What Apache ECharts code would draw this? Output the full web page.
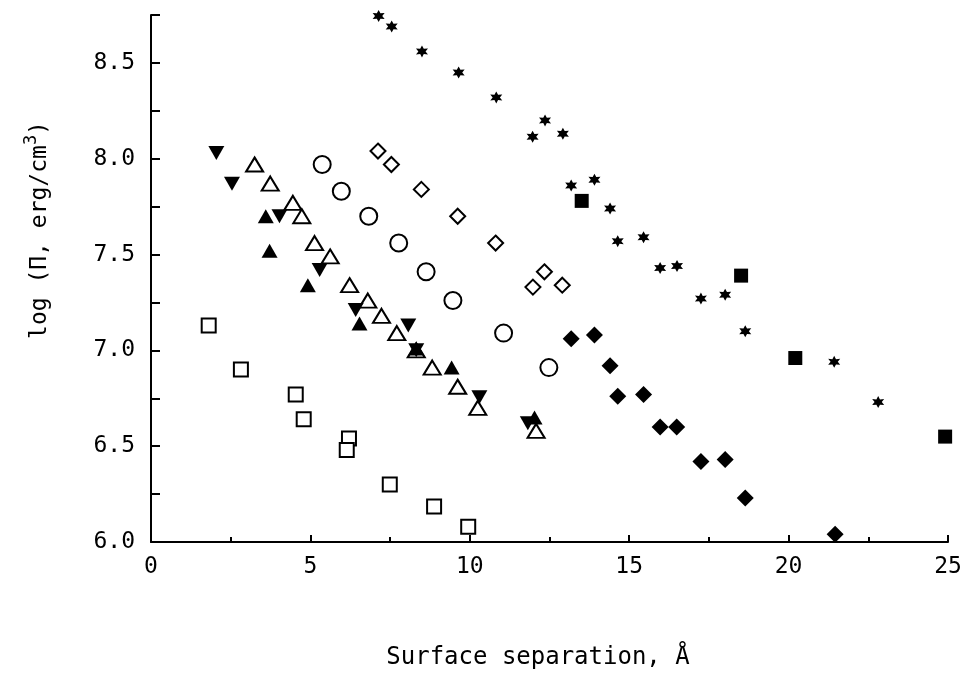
<!DOCTYPE html>
<html>
<head>
<meta charset="utf-8">
<title>log Pi vs surface separation</title>
<script src="https://cdn.jsdelivr.net/npm/echarts@6/dist/echarts.min.js"></script>
<style>
    html, body {margin: 0; padding: 0; background: #fff;}
    #main {width: 966px; height: 674px;}
</style>
</head>
<body>
<div id="main"></div>
<script>
// 数据：每组点的 x (Å) 和 y (log Π)
var openSquareX = [1.81, 2.82, 4.54, 4.79, 6.21, 6.14, 7.49, 8.88, 9.95];
var openSquareY = [7.13, 6.90, 6.77, 6.64, 6.54, 6.48, 6.30, 6.185, 6.08];

var downTriX = [2.05, 2.54, 4.03, 5.29, 6.42, 8.07, 8.32, 10.30, 11.82];
var downTriY = [8.03, 7.87, 7.70, 7.42, 7.21, 7.13, 7.00, 6.755, 6.62];

var upTriX = [3.60, 3.72, 4.92, 6.54, 8.32, 9.43, 12.03];
var upTriY = [7.70, 7.52, 7.34, 7.14, 7.01, 6.91, 6.65];

var openTriX = [3.25, 3.74, 4.45, 4.73, 5.13, 5.62, 6.23, 6.80, 7.23, 7.71, 8.32, 8.82, 9.62, 10.25, 12.08];
var openTriY = [7.97, 7.87, 7.77, 7.70, 7.56, 7.49, 7.34, 7.26, 7.18, 7.09, 7.00, 6.91, 6.81, 6.70, 6.58];

var circleX = [5.37, 5.97, 6.83, 7.77, 8.63, 9.47, 11.06, 12.48];
var circleY = [7.97, 7.83, 7.70, 7.56, 7.41, 7.26, 7.09, 6.91];

var openDiamondX = [7.12, 7.54, 8.48, 9.62, 10.81, 12.34, 11.98, 12.90];
var openDiamondY = [8.04, 7.97, 7.84, 7.70, 7.56, 7.41, 7.33, 7.34];

var diamondX = [13.18, 13.91, 14.40, 14.64, 15.45, 15.97, 16.49, 17.25, 18.01, 18.64, 21.46];
var diamondY = [7.06, 7.08, 6.92, 6.76, 6.77, 6.60, 6.60, 6.42, 6.43, 6.23, 6.04];

var starX = [7.14, 7.55, 8.50, 9.65, 10.83, 12.36, 11.97, 12.92, 13.18, 13.91, 14.40, 14.64, 15.45, 15.97, 16.50, 17.25, 18.01, 18.64, 21.43, 22.81];
var starY = [8.745, 8.69, 8.56, 8.45, 8.32, 8.20, 8.115, 8.13, 7.86, 7.89, 7.74, 7.57, 7.59, 7.43, 7.44, 7.27, 7.29, 7.10, 6.94, 6.73];

var squareX = [13.51, 18.51, 20.21, 24.91];
var squareY = [7.78, 7.39, 6.96, 6.55];

var yTicks = [6.0, 6.5, 7.0, 7.5, 8.0, 8.5];

var FONT = '"DejaVu Sans Mono", monospace';
// 六角星
var STAR = 'path://M10 0L12.6 5.5L18.66 5L15.2 10L18.66 15L12.6 14.5L10 20L7.4 14.5L1.34 15L4.8 10L1.34 5L7.4 5.5Z';

function zip(xs, ys) {
    var out = [];
    for (var i = 0; i < xs.length; i++) {
        out.push([xs[i], ys[i]]);
    }
    return out;
}

function makeSeries(name, xs, ys, symbol, size, filled, rotate) {
    return {
        name: name,
        type: 'scatter',
        data: zip(xs, ys),
        symbol: symbol,
        symbolSize: size,
        symbolRotate: rotate || 0,
        silent: true,
        itemStyle: filled
            ? {color: '#000', opacity: 1}
            : {color: '#fff', borderColor: '#000', borderWidth: 2, opacity: 1}
    };
}

var myChart = echarts.init(document.getElementById('main'));

// 刻度朝内：用负长度翻转方向
var option = {
    backgroundColor: '#fff',
    animation: false,
    grid: {left: 151, right: 18, top: 15, bottom: 132},
    xAxis: {
        type: 'value',
        min: 0,
        max: 25,
        interval: 5,
        splitLine: {show: false},
        axisLine: {lineStyle: {color: '#000', width: 2}},
        axisTick: {length: -7, lineStyle: {color: '#000', width: 2}},
        minorTick: {show: true, splitNumber: 2, length: -5, lineStyle: {color: '#000', width: 2}},
        minorSplitLine: {show: false},
        axisLabel: {
            margin: 14,
            color: '#000',
            fontFamily: FONT,
            fontSize: 23
        }
    },
    yAxis: {
        type: 'value',
        min: 6,
        max: 8.75,
        interval: 0.25,
        splitLine: {show: false},
        axisLine: {lineStyle: {color: '#000', width: 2}},
        axisTick: {length: -9, lineStyle: {color: '#000', width: 2}},
        axisLabel: {
            margin: 16,
            color: '#000',
            fontFamily: FONT,
            fontSize: 23,
            formatter: function (v) {
                var hit = yTicks.filter(function (t) { return Math.abs(t - v) < 1e-6; });
                return hit.length ? hit[0].toFixed(1) : '';
            }
        }
    },
    graphic: [
        {
            type: 'text',
            x: 40,
            y: 230,
            rotation: Math.PI / 2,
            style: {
                text: '{a|log (Π, erg/cm}{s|3}{a|)}',
                align: 'center',
                verticalAlign: 'middle',
                rich: {
                    a: {fontFamily: FONT, fontSize: 23, fill: '#000'},
                    s: {fontFamily: FONT, fontSize: 17, fill: '#000', padding: [0, 0, 16, 0]}
                }
            }
        },
        {
            type: 'text',
            x: 538,
            y: 658,
            style: {
                text: 'Surface separation, Å',
                align: 'center',
                verticalAlign: 'middle',
                fontFamily: FONT,
                fontSize: 24,
                fill: '#000'
            }
        }
    ],
    series: [
        makeSeries('open square', openSquareX, openSquareY, 'rect', 14, false),
        makeSeries('open triangle', openTriX, openTriY, 'triangle', [17, 14], false),
        makeSeries('filled triangle', upTriX, upTriY, 'triangle', [16, 14], true),
        makeSeries('filled down triangle', downTriX, downTriY, 'triangle', [16, 14], true, 180),
        makeSeries('open circle', circleX, circleY, 'circle', 17, false),
        makeSeries('open diamond', openDiamondX, openDiamondY, 'diamond', 15, false),
        makeSeries('filled diamond', diamondX, diamondY, 'diamond', 17, true),
        makeSeries('star', starX, starY, STAR, 12, true),
        makeSeries('filled square', squareX, squareY, 'rect', 14, true)
    ]
};

myChart.setOption(option);
</script>
</body>
</html>
